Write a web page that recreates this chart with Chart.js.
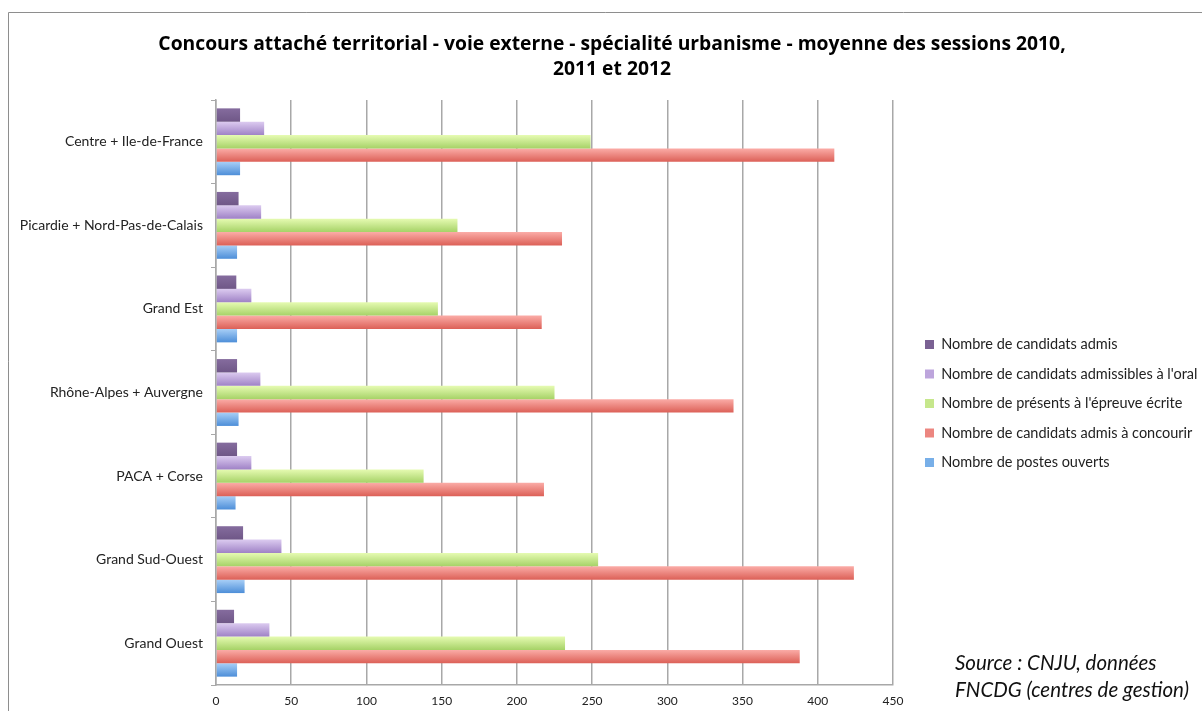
<!DOCTYPE html>
<html>
<head>
<meta charset="utf-8">
<script src="https://cdn.jsdelivr.net/npm/chart.js@4"></script>
<style>
  body { margin: 0; background: #fff; }
  #wrap { width: 1202px; height: 711px; }
</style>
</head>
<body>
<div id="wrap"><canvas id="barChart" width="1202" height="711"></canvas></div>
<script>
// Regions (top to bottom) and the five series, averages 2010-2012
const regions = [
  "Centre + Ile-de-France",
  "Picardie + Nord-Pas-de-Calais",
  "Grand Est",
  "Rhône-Alpes + Auvergne",
  "PACA + Corse",
  "Grand Sud-Ouest",
  "Grand Ouest"
];
const seriesNames = [
  "Nombre de candidats admis",
  "Nombre de candidats admissibles à l'oral",
  "Nombre de présents à l'épreuve écrite",
  "Nombre de candidats admis à concourir",
  "Nombre de postes ouverts"
];
const admis = [16, 15, 13.5, 14, 14, 18, 12];
const admissibles = [32, 30, 23.5, 29.5, 23.5, 43.5, 35.5];
const presents = [249, 160.5, 147.5, 225, 138, 254, 232];
const admisConcourir = [411, 230, 216.5, 344, 218, 424, 388];
const postesOuverts = [16, 14, 14, 15, 13, 19, 14];

const topColors = ["#856c9e", "#dccbf0", "#e6fbb2", "#fbaca7", "#a8cff7"];
const bottomColors = ["#6f5787", "#9f82c6", "#a6d267", "#dc6057", "#4d8ed8"];
const midColors = ["#7a6193", "#bda5dc", "#c6e78c", "#ec8680", "#78afe8"];

const titleLines = [
  "Concours attaché territorial - voie externe - spécialité urbanisme - moyenne des sessions 2010,",
  "2011 et 2012"
];
const sourceLines = ["Source : CNJU, données", "FNCDG (centres de gestion)"];

const FONT = "Lato, 'Open Sans', sans-serif";
const TITLE_FONT = "'Open Sans', Lato, sans-serif";
const GRID = "#a8a8a8";
const LEGEND_W = 309;    // space kept at the right for the legend
const LEGEND_SHIFT = 17; // gap between plot and legend
const LEGEND_DROP = 48;  // legend sits a bit below the middle
const TITLE_SHIFT = 7;

const seriesValues = [admis, admissibles, presents, admisConcourir, postesOuverts];

function shiftDraw(box, dx, dy) {
  const draw = box.draw;
  box.draw = function () {
    const c = this.ctx;
    c.save();
    c.translate(dx, dy);
    draw.apply(this, arguments);
    c.restore();
  };
}

const decorPlugin = {
  id: "decor",
  afterInit(chart) {
    const lg = chart.legend;
    const fit = lg.fit;
    lg.fit = function () {
      fit.call(this);
      this.width = LEGEND_W;
    };
    shiftDraw(lg, LEGEND_SHIFT, LEGEND_DROP);
    shiftDraw(chart.titleBlock, TITLE_SHIFT, 0);
  },
  beforeDraw(chart) {
    const c = chart.ctx;
    c.save();
    c.strokeStyle = "#8e8e8e";
    c.lineWidth = 1;
    c.beginPath();
    c.moveTo(8.5, chart.height);
    c.lineTo(8.5, 12.5);
    c.lineTo(chart.width, 12.5);
    c.stroke();
    c.restore();
  },
  beforeDatasetsDraw(chart) {
    const c = chart.ctx;
    chart.data.datasets.forEach((ds, i) => {
      chart.getDatasetMeta(i).data.forEach(el => {
        const top = el.y - el.height / 2;
        const g = c.createLinearGradient(0, top, 0, top + el.height);
        g.addColorStop(0, topColors[i]);
        g.addColorStop(1, bottomColors[i]);
        el.options = Object.assign({}, el.options, { backgroundColor: g });
      });
    });
  },
  afterDraw(chart) {
    const c = chart.ctx;
    c.save();
    c.fillStyle = "#111";
    c.font = "italic 20.5px " + FONT;
    c.textBaseline = "middle";
    c.fillText(sourceLines[0], 955, 663);
    c.fillText(sourceLines[1], 955, 690);
    c.restore();
  }
};

const ctx = document.getElementById("barChart").getContext("2d");
const barChart = new Chart(ctx, {
  type: "bar",
  data: {
    labels: regions,
    datasets: seriesNames.map((name, i) => ({
      label: name,
      data: seriesValues[i],
      backgroundColor: midColors[i],
      borderWidth: 0,
      barPercentage: 1,
      categoryPercentage: 0.8
    }))
  },
  options: {
    indexAxis: "y",
    responsive: false,
    animation: false,
    layout: { padding: { left: 8, right: 0, top: 0, bottom: 0 } },
    plugins: {
      title: {
        display: true,
        text: titleLines,
        color: "#000",
        font: { family: TITLE_FONT, size: 19.3, weight: "bold", lineHeight: "25px" },
        padding: { top: 32, bottom: 18 }
      },
      legend: {
        position: "right",
        labels: {
          boxWidth: 9,
          boxHeight: 9,
          padding: 15,
          color: "#222",
          font: { family: FONT, size: 14.5 }
        }
      },
      tooltip: { enabled: false }
    },
    scales: {
      x: {
        min: 0,
        max: 450,
        ticks: { stepSize: 50, color: "#222", padding: 9, font: { family: FONT, size: 12 } },
        grid: { color: GRID, lineWidth: 1.5, drawTicks: false },
        border: { color: GRID, width: 1.5 },
        afterFit(scale) { scale.height = 26; }
      },
      y: {
        ticks: { color: "#222", padding: 8, font: { family: FONT, size: 14 } },
        grid: { drawOnChartArea: false, drawTicks: true, tickLength: 5, color: GRID, offset: true },
        border: { color: GRID, width: 1.5 },
        afterFit(scale) { scale.width = 208; }
      }
    }
  },
  plugins: [decorPlugin]
});
</script>
</body>
</html>
